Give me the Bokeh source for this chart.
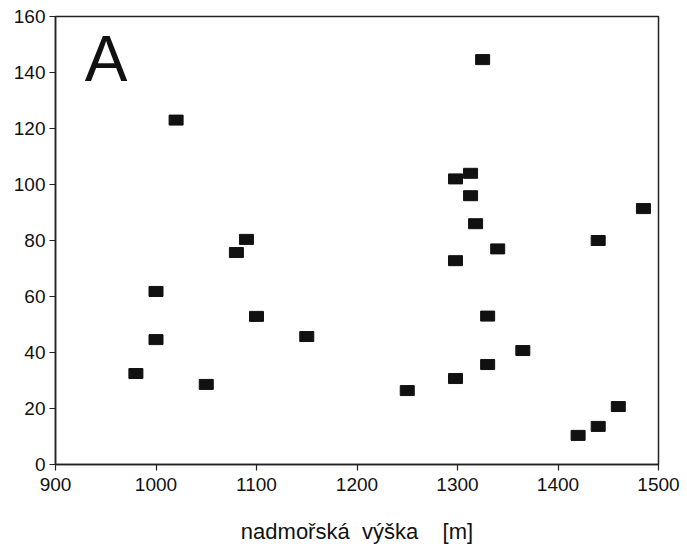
from bokeh.plotting import figure
from bokeh.models import Range1d, FixedTicker, Label
from bokeh.embed import file_html
from bokeh.resources import INLINE

altitude = [980, 1000, 1000, 1020, 1050, 1080, 1090, 1100, 1150, 1250,
            1298, 1313, 1313, 1318, 1298, 1340, 1330, 1298, 1330, 1365,
            1325, 1420, 1440, 1460, 1440, 1485]
values = [32.5, 44.6, 61.8, 123, 28.6, 75.7, 80.4, 52.9, 45.7, 26.4,
          102, 104, 96, 86, 72.8, 77, 53, 30.7, 35.7, 40.7,
          144.6, 10.4, 13.6, 20.7, 80, 91.4]
x_ticks = [900, 1000, 1100, 1200, 1300, 1400, 1500]
y_ticks = [0, 20, 40, 60, 80, 100, 120, 140, 160]

FONT = "Liberation Sans"

p = figure(width=680, height=548, output_backend="svg", toolbar_location=None,
           x_range=Range1d(900, 1500), y_range=Range1d(0, 160),
           min_border_left=55, min_border_top=16, min_border_right=22, min_border_bottom=84)
p.grid.visible = False
p.outline_line_color = "#222222"
p.outline_line_width = 1.5
p.background_fill_color = "white"
p.border_fill_color = "white"

p.rect(x=altitude, y=values, width=14, height=10, width_units="screen",
       height_units="screen", fill_color="#111111", line_color="#111111")

for ax in (p.xaxis[0], p.yaxis[0]):
    ax.axis_line_color = "#222222"
    ax.axis_line_width = 1.5
    ax.major_tick_line_color = "#222222"
    ax.major_tick_line_width = 1.2
    ax.major_tick_out = 6
    ax.major_tick_in = 0
    ax.minor_tick_line_color = None
    ax.major_label_text_font = FONT
    ax.major_label_text_font_size = "19px"
    ax.major_label_text_color = "#111111"
    ax.major_label_standoff = 4

p.xaxis.ticker = FixedTicker(ticks=x_ticks)
p.yaxis.ticker = FixedTicker(ticks=y_ticks)
p.xaxis.major_label_standoff = 7
p.xaxis.axis_label = "nadmořská\u00a0\u00a0výška\u00a0\u00a0\u00a0\u00a0[m]"
p.xaxis.axis_label_text_font = FONT
p.xaxis.axis_label_text_font_style = "normal"
p.xaxis.axis_label_text_font_size = "22px"
p.xaxis.axis_label_text_color = "#111111"
p.xaxis.axis_label_standoff = 25

p.add_layout(Label(x=929, y=145, text="A", text_font=FONT, text_font_size="64px",
                   text_color="#111111", text_baseline="alphabetic"))

open("out.html", "w").write(file_html(p, INLINE))
